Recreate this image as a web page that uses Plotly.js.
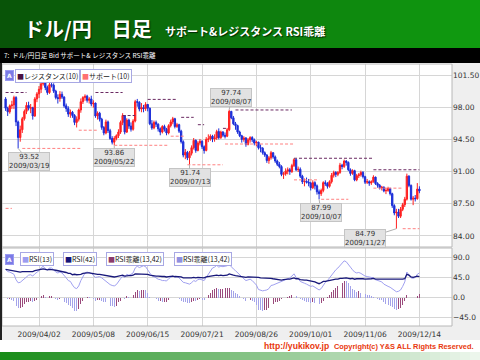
<!DOCTYPE html>
<html><head><meta charset="utf-8">
<script src="https://cdn.plot.ly/plotly-3.0.1.min.js"></script>
<style>html,body{margin:0;padding:0;background:#fff}#chart{width:480px;height:360px}</style>
</head><body><div id="chart"></div>
<script>
// ---------- DATA ----------
const dates = [
'2009/03/11','2009/03/12','2009/03/13','2009/03/16','2009/03/17','2009/03/18','2009/03/19','2009/03/20','2009/03/23','2009/03/24','2009/03/25','2009/03/26','2009/03/27','2009/03/30','2009/03/31',
'2009/04/01','2009/04/02','2009/04/03','2009/04/06','2009/04/07','2009/04/08','2009/04/09','2009/04/10','2009/04/13','2009/04/14','2009/04/15','2009/04/16','2009/04/17','2009/04/20','2009/04/21','2009/04/22','2009/04/23','2009/04/24','2009/04/27','2009/04/28','2009/04/29','2009/04/30',
'2009/05/01','2009/05/04','2009/05/05','2009/05/06','2009/05/07','2009/05/08','2009/05/11','2009/05/12','2009/05/13','2009/05/14','2009/05/15','2009/05/18','2009/05/19','2009/05/20','2009/05/21','2009/05/22','2009/05/25','2009/05/26','2009/05/27','2009/05/28','2009/05/29',
'2009/06/01','2009/06/02','2009/06/03','2009/06/04','2009/06/05','2009/06/08','2009/06/09','2009/06/10','2009/06/11','2009/06/12','2009/06/15','2009/06/16','2009/06/17','2009/06/18','2009/06/19','2009/06/22','2009/06/23','2009/06/24','2009/06/25','2009/06/26','2009/06/29','2009/06/30',
'2009/07/01','2009/07/02','2009/07/03','2009/07/06','2009/07/07','2009/07/08','2009/07/09','2009/07/10','2009/07/13','2009/07/14','2009/07/15','2009/07/16','2009/07/17','2009/07/20','2009/07/21','2009/07/22','2009/07/23','2009/07/24','2009/07/27','2009/07/28','2009/07/29','2009/07/30','2009/07/31',
'2009/08/03','2009/08/04','2009/08/05','2009/08/06','2009/08/07','2009/08/10','2009/08/11','2009/08/12','2009/08/13','2009/08/14','2009/08/17','2009/08/18','2009/08/19','2009/08/20','2009/08/21','2009/08/24','2009/08/25','2009/08/26','2009/08/27','2009/08/28','2009/08/31',
'2009/09/01','2009/09/02','2009/09/03','2009/09/04','2009/09/07','2009/09/08','2009/09/09','2009/09/10','2009/09/11','2009/09/14','2009/09/15','2009/09/16','2009/09/17','2009/09/18','2009/09/21','2009/09/22','2009/09/23','2009/09/24','2009/09/25','2009/09/28','2009/09/29','2009/09/30',
'2009/10/01','2009/10/02','2009/10/05','2009/10/06','2009/10/07','2009/10/08','2009/10/09','2009/10/12','2009/10/13','2009/10/14','2009/10/15','2009/10/16','2009/10/19','2009/10/20','2009/10/21','2009/10/22','2009/10/23','2009/10/26','2009/10/27','2009/10/28','2009/10/29','2009/10/30',
'2009/11/02','2009/11/03','2009/11/04','2009/11/05','2009/11/06','2009/11/09','2009/11/10','2009/11/11','2009/11/12','2009/11/13','2009/11/16','2009/11/17','2009/11/18','2009/11/19','2009/11/20','2009/11/23','2009/11/24','2009/11/25','2009/11/26','2009/11/27','2009/11/30',
'2009/12/01','2009/12/02','2009/12/03','2009/12/04','2009/12/07','2009/12/08','2009/12/09','2009/12/10','2009/12/11','2009/12/14'];

const openP = [98.90,97.90,97.50,98.15,98.25,99.05,96.40,94.70,95.55,96.75,97.55,98.20,97.90,97.95,97.05,
98.90,99.45,99.95,100.55,100.90,100.15,99.60,100.45,100.40,99.75,99.05,98.95,99.40,99.10,98.15,97.85,97.25,97.45,97.10,96.35,96.70,97.70,
98.60,99.05,99.20,98.75,98.90,98.35,98.45,97.05,97.35,96.70,95.80,95.20,96.40,95.45,94.60,94.20,94.60,94.90,95.30,96.35,97.10,
95.30,96.60,95.95,95.60,96.50,98.60,98.55,97.80,97.95,97.85,98.30,97.90,96.20,95.75,96.35,96.15,95.65,95.30,95.90,95.60,95.20,96.00,
96.40,96.75,95.90,96.10,95.40,94.25,92.80,93.10,92.50,93.00,93.60,94.40,93.30,94.10,94.30,93.70,93.30,94.50,94.55,94.85,94.55,94.65,95.35,
94.70,95.30,94.95,94.85,95.55,97.55,96.85,96.20,96.00,95.30,94.90,94.50,94.65,93.95,94.45,94.70,94.45,94.10,94.20,93.60,93.55,
93.05,92.80,92.20,92.50,93.05,92.60,92.15,91.80,91.55,90.70,90.75,91.05,91.20,91.00,91.65,92.30,91.20,91.25,90.50,89.90,89.95,89.85,
89.75,89.25,89.80,89.45,88.80,88.60,88.95,89.80,89.70,89.40,89.90,90.60,90.90,90.70,90.90,91.70,91.55,92.15,92.00,91.20,90.80,91.10,
90.10,90.55,90.65,90.90,90.45,89.85,89.90,89.75,89.90,90.40,89.70,89.50,89.25,89.30,88.90,88.95,89.15,88.60,87.30,86.50,86.60,
86.15,86.90,87.40,88.00,90.50,89.50,88.00,88.10,88.05,89.10];

const highP = [99.10,98.05,98.30,98.70,99.25,99.20,96.55,96.00,96.95,97.75,98.55,98.60,98.35,98.05,99.10,
99.65,100.30,100.75,101.45,101.05,100.35,100.65,100.70,100.60,99.90,99.40,99.75,99.70,99.20,98.40,98.10,97.75,97.60,97.25,97.00,97.85,98.95,
99.20,99.40,99.35,99.10,99.25,98.75,98.50,97.55,97.50,96.85,95.95,96.65,96.55,95.65,94.85,94.85,95.05,95.60,96.55,97.35,97.15,
96.80,96.75,96.35,96.70,98.80,98.90,98.65,98.45,98.25,98.55,98.35,97.95,96.60,96.55,96.55,96.25,95.80,96.05,96.10,95.75,96.15,96.65,
96.95,96.85,96.30,96.20,95.55,94.40,93.45,93.25,93.25,93.85,94.65,94.50,94.30,94.55,94.40,93.85,94.75,95.05,95.05,95.00,95.05,95.55,95.70,
95.45,95.40,95.25,95.75,97.74,97.60,97.05,96.40,96.10,95.45,95.00,94.85,94.75,94.65,94.85,94.85,94.60,94.35,94.25,93.95,93.65,
93.20,92.90,92.70,93.25,93.10,92.75,92.30,92.05,91.70,90.95,91.35,91.45,91.40,91.85,92.45,92.40,91.55,91.45,90.65,90.25,90.35,90.20,
89.90,90.05,89.95,89.60,89.05,89.15,89.95,90.05,89.85,90.05,90.85,91.10,91.05,91.05,91.95,91.85,92.30,92.25,92.10,91.35,91.25,91.20,
90.75,90.85,91.10,91.05,90.55,90.20,90.05,90.05,90.60,90.45,89.85,89.65,89.45,89.40,89.25,89.35,89.25,88.70,87.45,86.95,86.95,
87.15,87.60,88.25,90.78,90.60,89.60,88.35,88.45,89.75,89.40];

const lowP = [97.60,97.05,97.30,97.80,97.80,95.95,93.52,94.25,95.20,96.55,97.25,97.65,97.35,96.65,96.95,
98.55,99.00,99.55,100.35,99.85,99.35,99.45,100.15,99.55,98.85,98.40,98.60,98.90,97.95,97.50,96.95,96.85,96.85,96.05,95.80,96.45,97.40,
98.35,98.70,98.50,98.40,98.10,97.95,96.85,96.65,96.45,95.55,94.95,95.05,95.20,94.45,93.95,93.86,94.40,94.65,95.10,96.05,95.05,
95.20,95.65,95.35,95.45,96.35,98.05,97.55,97.45,97.45,97.60,97.55,96.05,95.55,95.60,95.85,95.35,94.95,95.15,95.35,94.95,95.05,95.80,
96.15,95.70,95.75,95.20,94.05,92.55,92.35,92.25,91.74,92.75,93.40,93.05,93.20,93.85,93.45,92.95,93.20,94.20,94.35,94.20,94.25,94.45,94.50,
94.55,94.75,94.60,94.75,95.40,96.70,96.05,95.55,95.10,94.75,94.15,94.25,93.70,93.85,94.15,94.20,93.85,93.75,93.40,93.10,92.85,
92.60,91.95,91.85,92.30,92.40,91.95,91.60,91.35,90.50,90.20,90.55,90.70,90.65,90.85,91.50,91.05,90.95,90.30,89.65,89.40,89.70,89.40,
88.95,89.10,89.05,88.50,87.99,88.35,88.75,89.45,89.15,89.25,89.70,90.35,90.40,90.50,90.75,91.25,91.40,91.65,91.05,90.55,90.65,89.95,
89.95,90.30,90.45,90.25,89.65,89.65,89.45,89.55,89.80,89.55,89.25,89.05,88.95,88.75,88.55,88.80,88.40,87.05,86.25,84.79,85.95,
85.95,86.70,87.15,87.85,89.30,87.85,87.35,87.75,87.95,88.65];

const closeP = [97.90,97.50,98.15,98.25,99.05,96.40,94.70,95.55,96.75,97.55,98.20,97.90,97.95,97.05,98.90,
99.45,99.95,100.55,100.90,100.15,99.60,100.45,100.40,99.75,99.05,98.95,99.40,99.10,98.15,97.85,97.25,97.45,97.10,96.35,96.70,97.70,98.60,
99.05,99.20,98.75,98.90,98.35,98.45,97.05,97.35,96.70,95.80,95.20,96.40,95.45,94.60,94.20,94.60,94.90,95.30,96.35,97.10,95.30,
96.60,95.95,95.60,96.50,98.60,98.55,97.80,97.95,97.85,98.30,97.90,96.20,95.75,96.35,96.15,95.65,95.30,95.90,95.60,95.20,96.00,96.40,
96.75,95.90,96.10,95.40,94.25,92.80,93.10,92.50,93.00,93.60,94.40,93.30,94.10,94.30,93.70,93.30,94.50,94.55,94.85,94.55,94.65,95.35,94.70,
95.30,94.95,94.85,95.55,97.55,96.85,96.20,96.00,95.30,94.90,94.50,94.65,93.95,94.45,94.70,94.45,94.10,94.20,93.60,93.55,93.05,
92.80,92.20,92.50,93.05,92.60,92.15,91.80,91.55,90.70,90.75,91.05,91.20,91.00,91.65,92.30,91.20,91.25,90.50,89.90,89.95,89.85,89.75,
89.25,89.80,89.45,88.80,88.60,88.95,89.80,89.70,89.40,89.90,90.60,90.90,90.70,90.90,91.70,91.55,92.15,92.00,91.20,90.80,91.10,90.10,
90.55,90.65,90.90,90.45,89.85,89.90,89.75,89.90,90.40,89.70,89.50,89.25,89.30,88.90,88.95,89.15,88.60,87.30,86.50,86.60,86.15,
86.90,87.40,88.00,90.50,89.50,88.00,88.10,88.05,89.10,88.90];

const rsi13 = [63,58,57,55,52,40,33,34,38,44,48,
50,51,48,53,56,60,66,70,64,62,
66,66,62,57,55,57,55,48,44,38,
36,28,22,20,26,38,46,55,57,56,
54,50,45,46,47,44,40,38,34,29,
27,26,29,37,42,48,45,52,50,52,
55,66,70,67,69,71,69,62,52,48,
47,44,41,40,38,38,37,42,46,48,
45,47,44,39,34,33,31,30,33,38,
36,40,41,40,38,45,52,58,66,68,
72,68,70,69,70,71,74,68,64,60,
55,50,45,42,38,40,41,38,34,28,
18,16,15,16,17,20,27,28,30,31,
33,35,38,40,42,44,48,53,45,42,
36,33,32,30,28,25,26,23,20,17,
20,28,34,38,44,52,58,62,66,72,
76,82,80,75,68,62,57,55,56,54,
50,48,47,46,45,44,40,38,36,35,
30,27,25,23,19,15,13,14,17,25,
35,57,50,44,43,45,52,55];

const rsi42 = [63,62,61,60,60,58,57,57,58,58,59,
59,59,58,60,61,62,63,64,63,62,
63,63,62,61,60,60,59,57,56,54,
54,51,52,51,51,52,54,55,55,55,
54,54,52,52,52,51,50,49,48,47,
46,46,47,48,49,50,48,49,49,49,
50,53,53,53,53,53,53,52,50,49,
49,48,48,47,47,47,46,47,48,48,
47,47,47,46,44,44,43,43,44,45,
44,45,45,45,44,46,47,48,49,49,
50,49,50,49,49,50,53,51,50,49,
48,47,46,46,45,46,46,45,45,45,
45,44,44,44,44,44,43,42,41,41,
40,39,40,41,41,41,42,44,42,42,
40,39,39,39,38,37,37,35,33,31,
33,36,36,37,38,40,41,41,41,43,
43,44,44,43,42,43,41,42,42,43,
42,41,41,41,42,43,41,41,41,41,
41,41,41,41,40,40,40,40,40,41,
42,52,50,46,45,46,48,47];

// support / resistance segments
const resStart = ['2009/03/11','2009/05/11','2009/05/28','2009/06/15','2009/07/07','2009/07/17','2009/08/04','2009/08/12','2009/09/21','2009/11/12'];
const resEnd   = ['2009/03/25','2009/05/28','2009/06/05','2009/07/03','2009/07/15','2009/07/22','2009/08/06','2009/09/18','2009/11/12','2009/12/14'];
const resLevel = [99.60,99.60,97.10,98.85,96.90,96.10,95.70,97.70,92.45,91.20];
const supStart = ['2009/03/11','2009/03/23','2009/04/29','2009/05/22','2009/06/30','2009/07/10','2009/08/05','2009/09/21','2009/10/08','2009/11/12','2009/12/02'];
const supEnd   = ['2009/03/16','2009/04/30','2009/05/12','2009/06/29','2009/07/09','2009/08/04','2009/09/21','2009/10/07','2009/10/27','2009/12/02','2009/12/14'];
const supLevel = [87.00,93.52,95.50,93.86,94.85,91.74,94.00,90.10,87.99,89.20,84.79];

// marked extremes
const markDates  = ['2009/03/19','2009/05/22','2009/07/13','2009/08/07','2009/10/07','2009/11/27'];
const markValues = [93.52,93.86,91.74,97.74,87.99,84.79];

const xTicks = ['2009/04/02','2009/05/08','2009/06/15','2009/07/21','2009/08/26','2009/10/01','2009/11/06','2009/12/14'];
const priceTicks = [84.00,87.50,91.00,94.50,98.00,101.50];
const rsiTicks = [-45,0,45,90];

// ---------- helpers (layout only) ----------
const L=2, R=28, T=64, B=34, W=480-L-R, H=360-T-B;
const PX = px => (px - L) / W;
const PY = py => (360 - B - py) / H;

function segs(starts, ends, levels){
  const x=[], y=[];
  for(let k=0;k<starts.length;k++){ x.push(starts[k], ends[k], null); y.push(levels[k], levels[k], null); }
  return {x, y};
}
const rs = segs(resStart,resEnd,resLevel);
const ss = segs(supStart,supEnd,supLevel);
const diff = rsi13.map((v,i)=> v - rsi42[i]);
const diffUp = diff.map((v,i)=> (i===0 || v>=diff[i-1]) ? v : null);
const diffDn = diff.map((v,i)=> (i!==0 && v<diff[i-1]) ? v : null);

const traces = [
  {type:'candlestick', x:dates, open:openP, high:highP, low:lowP, close:closeP,
   increasing:{line:{color:'#ff2020', width:1}, fillcolor:'#ff2020'},
   decreasing:{line:{color:'#1c2ed8', width:1}, fillcolor:'#1c2ed8'}, whiskerwidth:0},
  {type:'scatter', mode:'lines', x:rs.x, y:rs.y, line:{color:'#6a2a62', width:1, dash:'3px,2px'}, connectgaps:false, hoverinfo:'skip'},
  {type:'scatter', mode:'lines', x:ss.x, y:ss.y, line:{color:'#ff8080', width:1, dash:'3px,2px'}, connectgaps:false, hoverinfo:'skip'},
  {type:'bar', x:dates, y:diffUp, yaxis:'y2', marker:{color:'#9a4a7c'}, width:0.45},
  {type:'bar', x:dates, y:diffDn, yaxis:'y2', marker:{color:'#a4a4ea'}, width:0.45},
  {type:'scatter', mode:'lines', x:dates, y:rsi13, yaxis:'y2', line:{color:'#a0a0f0', width:1}},
  {type:'scatter', mode:'lines', x:dates, y:rsi42, yaxis:'y2', line:{color:'#18187a', width:1.3}}
];

// ---------- decorations ----------
const shapes = [];
function hex(c){return '#'+c.map(v=>Math.round(v).toString(16).padStart(2,'0')).join('');}
const hdrA=[8,84,8], hdrB=[16,156,16];
for(let k=0;k<48;k++){
  const t=k/47;
  shapes.push({type:'rect', xref:'paper', yref:'paper', x0:PX(k*10), x1:PX(k*10+11), y0:PY(48), y1:PY(0),
    line:{width:0}, fillcolor:hex(hdrA.map((a,j)=>a+(hdrB[j]-a)*t)), layer:'below'});
}
const ftA=[24,140,24], ftB=[236,246,236];
for(let k=0;k<48;k++){
  const t=k/47;
  shapes.push({type:'rect', xref:'paper', yref:'paper', x0:PX(k*10), x1:PX(k*10+11), y0:PY(360), y1:PY(352),
    line:{width:0}, fillcolor:hex(ftA.map((a,j)=>a+(ftB[j]-a)*t)), layer:'below'});
}
shapes.push({type:'rect', xref:'paper', yref:'paper', x0:PX(0), x1:PX(480), y0:PY(63), y1:PY(48), line:{width:0}, fillcolor:'#000', layer:'below'});
shapes.push({type:'rect', xref:'paper', yref:'paper', x0:PX(452), x1:PX(480), y0:PY(340), y1:PY(63), line:{width:0}, fillcolor:'#efefef', layer:'below'});
shapes.push({type:'rect', xref:'paper', yref:'paper', x0:PX(0), x1:PX(452), y0:PY(340), y1:PY(326), line:{width:0}, fillcolor:'#efefef', layer:'below'});
shapes.push({type:'rect', xref:'paper', yref:'paper', x0:PX(2), x1:PX(452), y0:PY(247), y1:PY(64), line:{color:'#b8b8b8', width:1}, fillcolor:'rgba(0,0,0,0)'});
shapes.push({type:'rect', xref:'paper', yref:'paper', x0:PX(2), x1:PX(452), y0:PY(326), y1:PY(248), line:{color:'#b8b8b8', width:1}, fillcolor:'rgba(0,0,0,0)'});
shapes.push({type:'line', xref:'paper', yref:'paper', x0:PX(1), x1:PX(1), y0:PY(340), y1:PY(63), line:{color:'#222', width:2}});

const jp = 'Noto Sans CJK JP';
const ann = [];
ann.push({xref:'paper', yref:'paper', x:PX(22), y:PY(28), xanchor:'left', yanchor:'middle', showarrow:false,
  text:'<b>ドル/円　日足</b>', font:{family:jp, size:20, color:'#ffffff', shadow:'1px 1px 1px #002a00'}});
ann.push({xref:'paper', yref:'paper', x:PX(163), y:PY(31), xanchor:'left', yanchor:'middle', showarrow:false,
  text:'<b>サポート&amp;レジスタンス RSI乖離</b>', font:{family:jp, size:11, color:'#ffffff', shadow:'1px 1px 1px #002a00'}});
ann.push({xref:'paper', yref:'paper', x:PX(2), y:PY(55), xanchor:'left', yanchor:'middle', showarrow:false,
  text:'7:  ドル/円日足 Bid サポート&amp; レジスタンス RSI乖離', font:{family:jp, size:6.5, color:'#ffffff'}});
ann.push({xref:'paper', yref:'paper', x:PX(262), y:PY(346), xanchor:'left', yanchor:'middle', showarrow:false,
  text:'<b>http://yukikov.jp</b>', font:{family:'Liberation Sans', size:8.6, color:'#e8380d'}});
ann.push({xref:'paper', yref:'paper', x:PX(476), y:PY(346), xanchor:'right', yanchor:'middle', showarrow:false,
  text:'<b>Copyright(c) Y&amp;S ALL Rights Reserved.</b>', font:{family:'Liberation Sans', size:7.4, color:'#e8380d'}});

function btn(cx, cy){
  ann.push({xref:'paper', yref:'paper', x:PX(cx), y:PY(cy), xanchor:'center', yanchor:'middle', showarrow:false,
    text:'<b>A</b>', bgcolor:'#7b7be6', bordercolor:'#9a9af0', borderwidth:1, borderpad:1, font:{family:'DejaVu Sans', size:6, color:'#fff'}});
}
function leg(cx, cy, col, label){
  ann.push({xref:'paper', yref:'paper', x:PX(cx), y:PY(cy), xanchor:'center', yanchor:'middle', showarrow:false,
    text:'<span style="color:'+col+'">■</span>'+label, bgcolor:'#ffffff', bordercolor:'#a8a8e4', borderwidth:1, borderpad:1,
    font:{family:jp, size:7, color:'#222'}});
}
btn(9,76); leg(47.5,76,'#4a1040','レジスタンス(10)'); leg(106,76,'#ff7070','サポート(10)');
btn(9,259); leg(37,259,'#9c9cf0','RSI(13)'); leg(80,259,'#15157a','RSI(42)');
leg(134.5,259,'#8b3a6b','RSI乖離(13,42)'); leg(202.5,259,'#8f8fe0','RSI乖離(13,42)');

const offs = [[11,13],[0,12],[0,13],[2,-12],[2,13],[-31,10]];
markDates.forEach((d,k)=>{
  ann.push({x:d, y:markValues[k], xref:'x', yref:'y', text:markValues[k].toFixed(2)+'<br>'+d,
    showarrow:true, arrowhead:0, arrowwidth:1, arrowcolor:'#b0b0b0', ax:offs[k][0], ay:offs[k][1], standoff:0,
    bgcolor:'#e2e2e2', bordercolor:'#c4c4c4', borderwidth:1, borderpad:0, font:{family:'DejaVu Sans', size:7, color:'#333'}});
});

const layout = {
  width:480, height:360, margin:{l:L, r:R, t:T, b:B, pad:0},
  paper_bgcolor:'#ffffff', plot_bgcolor:'#ffffff', showlegend:false,
  font:{family:'DejaVu Sans', size:7.5, color:'#333'},
  bargap:0, barmode:'overlay', boxgap:0.1,
  xaxis:{type:'category', categoryorder:'array', categoryarray:dates, range:[-1.72,213.6], anchor:'y2',
    tickvals:xTicks, ticktext:xTicks, ticks:'', tickangle:0, ticklabelstandoff:2,
    showgrid:true, gridcolor:'#d6d6d6', gridwidth:1, zeroline:false, showline:false,
    tickfont:{size:7.5, color:'#333'}, rangeslider:{visible:false}, fixedrange:true},
  yaxis:{domain:[PY(247),1], range:[82.8,102.7], side:'right', anchor:'x', tickvals:priceTicks,
    tickformat:'.2f', ticks:'', showgrid:true, gridcolor:'#d6d6d6', zeroline:false, showline:false,
    tickfont:{size:7.5, color:'#333'}, fixedrange:true},
  yaxis2:{domain:[0,PY(248)], range:[-63.5,110.7], side:'right', anchor:'x', tickvals:rsiTicks,
    tickformat:'.1f', ticks:'', showgrid:true, gridcolor:'#d6d6d6', zeroline:false, showline:false,
    tickfont:{size:7.5, color:'#333'}, fixedrange:true},
  shapes:shapes, annotations:ann
};
Plotly.newPlot('chart', traces, layout, {staticPlot:true, displayModeBar:false});
</script></body></html>
